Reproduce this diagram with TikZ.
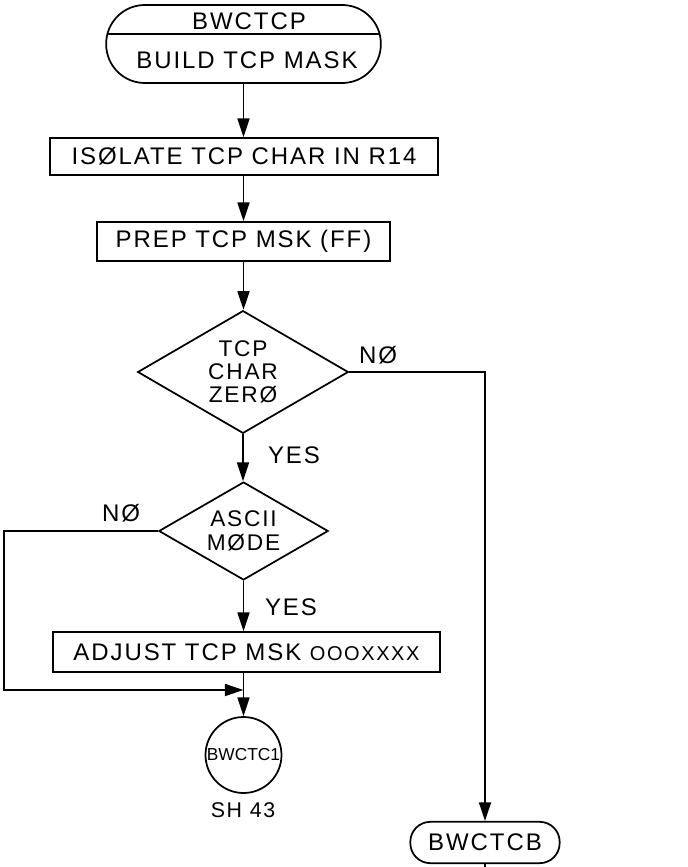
\documentclass[tikz,border=0pt]{standalone}
\usepackage{fontspec}
\setmainfont[LetterSpace=8]{Liberation Sans}
\usetikzlibrary{shapes.geometric,arrows.meta}

\begin{document}
\begin{tikzpicture}[x=0.75pt,y=0.75pt,yscale=-1,xscale=1,line width=1.3pt,
	procbox/.style={draw,rectangle,inner sep=0pt,font=\fontsize{18}{20}\selectfont},
	termbox/.style={draw,rectangle,rounded corners=#1,inner sep=0pt,font=\fontsize{18}{20}\selectfont},
	decbox/.style={draw,diamond,aspect=1.7,inner sep=0pt,align=center,font=\fontsize{17}{17.5}\selectfont},
	lbl/.style={inner sep=0.75pt,font=\fontsize{18}{20}\selectfont},
	flow/.style={-{Triangle[length=14pt,width=9pt]}}]
\useasboundingbox (0,0) rectangle (687,867);

%Shape: Terminal [id:start]
\node [termbox=29pt,minimum width=206pt,minimum height=58.5pt] (start) at (243.5,44) {};
\draw (107.5,34) -- (379.5,34) ;
% Text Node
\node [lbl] (startname) at (249,21) {BWCTCP};
% Text Node
\node [lbl] (starttext) at (247,60) {BUILD TCP MASK};

%Shape: Rectangle [id:isolate]
\node [procbox,minimum width=291pt,minimum height=27.75pt] (isolate) at (244,156.5) {ISØLATE TCP CHAR IN R14};
%Shape: Rectangle [id:prep]
\node [procbox,minimum width=220pt,minimum height=29.25pt] (prep) at (243.5,241.5) {PREP TCP MSK (FF)};
%Shape: Diamond [id:zero]
\node [decbox,minimum width=158pt,minimum height=92pt] (zero) at (243,372) {TCP\\CHAR\\ZERØ};
%Shape: Diamond [id:ascii]
\node [decbox,minimum width=127pt,minimum height=73.5pt] (ascii) at (243.5,531) {ASCII\\MØDE};
%Shape: Rectangle [id:adjust]
\node [procbox,minimum width=290pt,minimum height=30pt] (adjust) at (246.5,652) {ADJUST TCP MSK {\fontsize{15}{15}\selectfont OOOXXXX}};
%Shape: Circle [id:bwctc1]
\node [draw,circle,minimum size=57pt,inner sep=0pt,font=\fontsize{13}{14}\selectfont\addfontfeature{LetterSpace=0}] (bwctc1) at (243.5,755) {BWCTC1};
% Text Node
\node [lbl,font=\fontsize{16}{18}\selectfont] (sheet) at (243,810) {SH 43};
%Shape: Terminal [id:bwctcb]
\node [termbox=15pt,minimum width=112pt,minimum height=31pt] (bwctcb) at (485,842.5) {BWCTCB};

% Text Node
\node [lbl] (nozero) at (378,355) {NØ};
% Text Node
\node [lbl] (yeszero) at (294,455) {YES};
% Text Node
\node [lbl] (noascii) at (121,513) {NØ};
% Text Node
\node [lbl] (yesascii) at (291,607) {YES};

\coordinate (loopleft) at (4,690);
\coordinate (merge) at (243.5,690);
\coordinate (offpage) at (485,867);

%Straight Lines
\draw [flow] (start.south) -- (start.south |- isolate.north);
\draw [flow] (prep.north |- isolate.south) -- (prep.north);
\draw [flow] (prep.south) -- (prep.south |- zero.north);
\draw [flow] (zero.south) -- (zero.south |- ascii.north);
\draw [flow] (ascii.south) -- (ascii.south |- adjust.north);
\draw [flow] (zero.east) -| (bwctcb.north);
\draw (bwctcb.south) -- (offpage);
\draw [flow] (ascii.west) -| (loopleft) -- (merge);
\draw [flow] (merge |- adjust.south) -- (bwctc1.north);

\end{tikzpicture}
\end{document}
